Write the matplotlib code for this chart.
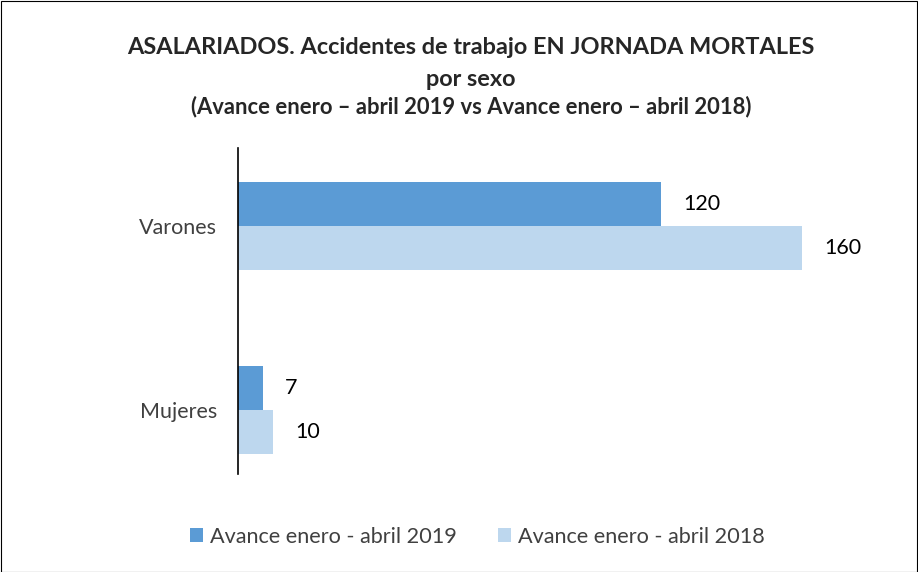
import matplotlib
matplotlib.use("Agg")
import matplotlib.pyplot as plt
from matplotlib.patches import Rectangle

plt.rcParams['font.family'] = ['Lato', 'DejaVu Sans']

categories = ["Mujeres", "Varones"]
serie_2019 = [7, 120]
serie_2018 = [10, 160]
nombres = ["Avance enero - abril 2019", "Avance enero - abril 2018"]
colores = ["#5B9BD5", "#BDD7EE"]

W, H = 918, 572
fig = plt.figure(figsize=(W / 100, H / 100), dpi=100)
ax = fig.add_axes([238 / W, (H - 474) / H, 635 / W, 326 / H])

h = 0.239
y = list(range(len(categories)))
b1 = ax.barh([v + h / 2 for v in y], serie_2019, height=h, color=colores[0], label=nombres[0])
b2 = ax.barh([v - h / 2 for v in y], serie_2018, height=h, color=colores[1], label=nombres[1])

for bars, vals in ((b1, serie_2019), (b2, serie_2018)):
    for bar, v in zip(bars, vals):
        ax.annotate(str(v), (bar.get_width(), bar.get_y() + bar.get_height() / 2),
                    xytext=(16, 0), textcoords="offset points", va="center", ha="left",
                    fontsize=15.5, color="#000000")

ax.set_xlim(0, 180)
ax.set_ylim(-0.348, 1.424)
ax.set_yticks(y)
ax.set_yticklabels(categories, fontsize=15.5, color="#404040")
ax.tick_params(axis="y", length=0, pad=15)
ax.set_xticks([])
for s in ("top", "right", "bottom"):
    ax.spines[s].set_visible(False)
ax.spines["left"].set_color("#000000")
ax.spines["left"].set_linewidth(1.2)

# titulo (centrado un poco a la derecha, como en el original)
cx = 471 / W
fig.text(cx, 1 - 48 / H, "ASALARIADOS. Accidentes de trabajo EN JORNADA MORTALES",
         ha="center", va="center", fontsize=16.9, fontweight="bold", color="#262626")
fig.text(cx, 1 - 79 / H, "por sexo", ha="center", va="center",
         fontsize=16.9, fontweight="bold", color="#262626")
fig.text(cx, 1 - 107 / H, "(Avance enero \u2013 abril 2019 vs Avance enero \u2013 abril 2018)",
         ha="center", va="center", fontsize=15.8, fontweight="bold", color="#262626")

fig.legend(handles=[b1, b2], loc="center", bbox_to_anchor=(477 / W, 1 - 537 / H),
           ncol=2, frameon=False, fontsize=15.6, handlelength=0.6, handleheight=0.6,
           handletextpad=0.32, columnspacing=1.9, labelcolor="#404040")

fig.patches.append(Rectangle((0.5 / W, 0.5 / H), 1 - 1.5 / W, 1 - 1.5 / H, transform=fig.transFigure,
                             fill=False, edgecolor="#000000", linewidth=0.8))

fig.savefig("out.png", dpi=100)
